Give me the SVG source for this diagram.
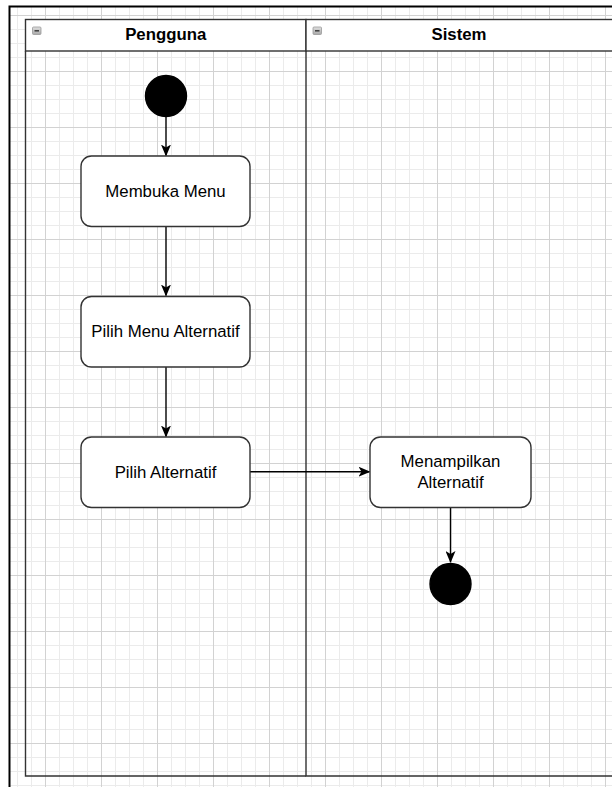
<svg xmlns="http://www.w3.org/2000/svg" width="612" height="787" viewBox="0 0 612 787">
  <style>
    .lane { fill: none; stroke: #333; stroke-width: 1.4; }
    .head { fill: #fff; stroke: #333; stroke-width: 1.4; }
    .title { font-family: "Liberation Sans", Arial, sans-serif; font-size: 16.8px; font-weight: bold; fill: #000; text-anchor: middle; }
    .act rect { fill: #fff; stroke: #333; stroke-width: 1.4; }
    .act text { font-family: "Liberation Sans", Arial, sans-serif; font-size: 16.8px; fill: #000; text-anchor: middle; }
    .dot { fill: #000; stroke: #000; stroke-width: 1.4; }
    .edge { fill: none; stroke: #000; stroke-width: 1.4; marker-end: url(#arrow); }
    .fold rect { fill: url(#foldFill); stroke: #999; stroke-width: 0.8; }
    .fold line { stroke: #444; stroke-width: 1.6; }
  </style>
  <defs>
    <pattern id="grid" patternUnits="userSpaceOnUse" x="45" y="15" width="56" height="56">
      <path d="M14.5 0V56M28.5 0V56M42.5 0V56M0 14.5H56M0 28.5H56M0 42.5H56" stroke="#ebebeb" stroke-width="1" fill="none"/>
      <path d="M0.5 0V56M0 0.5H56" stroke="#d2d2d2" stroke-width="1" fill="none"/>
    </pattern>
    <linearGradient id="foldFill" x1="0" y1="0" x2="0" y2="1">
      <stop offset="0" stop-color="#e0e0e0"/>
      <stop offset="1" stop-color="#a8a8a8"/>
    </linearGradient>
    <marker id="arrow" viewBox="0 0 12 10" refX="11" refY="5" markerWidth="12" markerHeight="10" markerUnits="userSpaceOnUse" orient="auto">
      <path d="M0 0L12 5L0 10L3 5Z" fill="#000"/>
    </marker>
  </defs>

  <!-- page background and grid -->
  <rect x="0" y="0" width="612" height="787" fill="#fff"/>
  <rect x="10" y="7" width="602" height="780" fill="url(#grid)"/>
  <path d="M9.5 787V6.5H612" fill="none" stroke="#000" stroke-width="2"/>

  <!-- swimlane pool -->
  <g id="lane-pengguna">
    <rect class="head" x="25.5" y="19.5" width="280.5" height="31.5"/>
    <path class="lane" d="M25.5 51V776H306"/>
    <g class="fold">
      <rect x="32.5" y="27" width="8.5" height="7.5" rx="1"/>
      <line x1="34.5" y1="30.8" x2="39" y2="30.8"/>
    </g>
    <text class="title" x="165.7" y="39.5">Pengguna</text>
  </g>
  <g id="lane-sistem">
    <rect class="head" x="306" y="19.5" width="310" height="31.5"/>
    <path class="lane" d="M306 51V776H616"/>
    <g class="fold">
      <rect x="313" y="27" width="8.5" height="7.5" rx="1"/>
      <line x1="315" y1="30.8" x2="319.5" y2="30.8"/>
    </g>
    <text class="title" x="459" y="39.5">Sistem</text>
  </g>

  <!-- connectors -->
  <g id="connectors">
    <path class="edge" d="M166 117V155.5"/>
    <path class="edge" d="M166 226.5V295.5"/>
    <path class="edge" d="M166 367V436.5"/>
    <path class="edge" d="M250 471.7H369.5"/>
    <path class="edge" d="M450.5 507.3V562"/>
  </g>

  <!-- nodes -->
  <g id="start">
    <circle class="dot" cx="166" cy="96" r="20.5"/>
  </g>
  <g id="membuka-menu" class="act">
    <rect x="81" y="156" width="169" height="70.5" rx="10.5"/>
    <text x="165.5" y="196.5">Membuka Menu</text>
  </g>
  <g id="pilih-menu-alternatif" class="act">
    <rect x="81" y="296.5" width="169" height="70.5" rx="10.5"/>
    <text x="165.5" y="337">Pilih Menu Alternatif</text>
  </g>
  <g id="pilih-alternatif" class="act">
    <rect x="81" y="437" width="169" height="70.5" rx="10.5"/>
    <text x="165.5" y="477.5">Pilih Alternatif</text>
  </g>
  <g id="menampilkan-alternatif" class="act">
    <rect x="370" y="437" width="161" height="70.5" rx="10.5"/>
    <text x="450.5" y="467">Menampilkan</text>
    <text x="450.5" y="488">Alternatif</text>
  </g>
  <g id="end">
    <circle class="dot" cx="450.5" cy="584" r="20.5"/>
  </g>
</svg>
